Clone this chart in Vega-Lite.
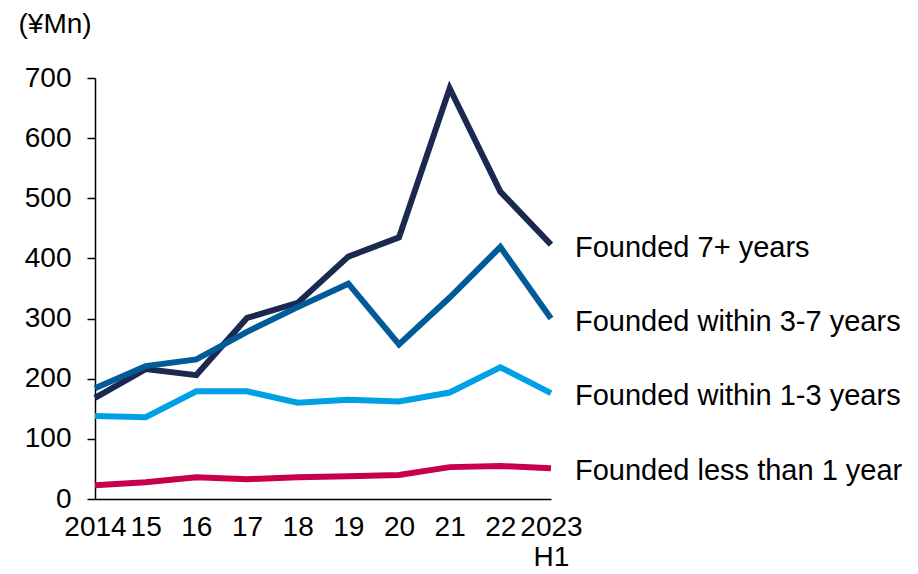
{
  "$schema": "https://vega.github.io/schema/vega-lite/v6.json",
  "width": 456,
  "height": 421,
  "autosize": "none",
  "padding": {"left": 95, "top": 78, "right": 367, "bottom": 75},
  "background": "white",
  "config": {
    "view": {"stroke": null},
    "font": "Liberation Sans",
    "axis": {"labelFont": "Liberation Sans", "titleFont": "Liberation Sans"}
  },
  "data": {
    "values": [
      {"year": "2014", "series": "Founded 7+ years", "value": 168},
      {"year": "15", "series": "Founded 7+ years", "value": 216},
      {"year": "16", "series": "Founded 7+ years", "value": 206},
      {"year": "17", "series": "Founded 7+ years", "value": 301},
      {"year": "18", "series": "Founded 7+ years", "value": 326},
      {"year": "19", "series": "Founded 7+ years", "value": 403},
      {"year": "20", "series": "Founded 7+ years", "value": 435},
      {"year": "21", "series": "Founded 7+ years", "value": 683},
      {"year": "22", "series": "Founded 7+ years", "value": 511},
      {"year": "2023 H1", "series": "Founded 7+ years", "value": 423},
      {"year": "2014", "series": "Founded within 3-7 years", "value": 184},
      {"year": "15", "series": "Founded within 3-7 years", "value": 221},
      {"year": "16", "series": "Founded within 3-7 years", "value": 232},
      {"year": "17", "series": "Founded within 3-7 years", "value": 278},
      {"year": "18", "series": "Founded within 3-7 years", "value": 319},
      {"year": "19", "series": "Founded within 3-7 years", "value": 358},
      {"year": "20", "series": "Founded within 3-7 years", "value": 257},
      {"year": "21", "series": "Founded within 3-7 years", "value": 335},
      {"year": "22", "series": "Founded within 3-7 years", "value": 419},
      {"year": "2023 H1", "series": "Founded within 3-7 years", "value": 300},
      {"year": "2014", "series": "Founded within 1-3 years", "value": 138},
      {"year": "15", "series": "Founded within 1-3 years", "value": 136},
      {"year": "16", "series": "Founded within 1-3 years", "value": 179},
      {"year": "17", "series": "Founded within 1-3 years", "value": 179},
      {"year": "18", "series": "Founded within 1-3 years", "value": 160},
      {"year": "19", "series": "Founded within 1-3 years", "value": 165},
      {"year": "20", "series": "Founded within 1-3 years", "value": 162},
      {"year": "21", "series": "Founded within 1-3 years", "value": 177},
      {"year": "22", "series": "Founded within 1-3 years", "value": 219},
      {"year": "2023 H1", "series": "Founded within 1-3 years", "value": 176},
      {"year": "2014", "series": "Founded less than 1 year", "value": 23},
      {"year": "15", "series": "Founded less than 1 year", "value": 28},
      {"year": "16", "series": "Founded less than 1 year", "value": 36},
      {"year": "17", "series": "Founded less than 1 year", "value": 33},
      {"year": "18", "series": "Founded less than 1 year", "value": 36},
      {"year": "19", "series": "Founded less than 1 year", "value": 38},
      {"year": "20", "series": "Founded less than 1 year", "value": 40},
      {"year": "21", "series": "Founded less than 1 year", "value": 53},
      {"year": "22", "series": "Founded less than 1 year", "value": 55},
      {"year": "2023 H1", "series": "Founded less than 1 year", "value": 51}
    ]
  },
  "encoding": {
    "x": {
      "field": "year",
      "type": "ordinal",
      "sort": null,
      "scale": {"type": "point", "padding": 0},
      "axis": {
        "title": null,
        "labelAngle": 0,
        "labelFontSize": 28,
        "labelColor": "black",
        "labelPadding": 14,
        "labelOverlap": false,
        "labelFlush": false,
        "labelExpr": "datum.value == '2023 H1' ? ['2023', 'H1'] : datum.value",
        "ticks": false,
        "domainColor": "black",
        "domainWidth": 1.5,
        "grid": false
      }
    },
    "y": {
      "field": "value",
      "type": "quantitative",
      "scale": {"domain": [0, 700], "nice": false},
      "axis": {
        "values": [0, 100, 200, 300, 400, 500, 600, 700],
        "title": "(¥Mn)",
        "titleAngle": 0,
        "titleAlign": "left",
        "titleBaseline": "alphabetic",
        "titleX": -77,
        "titleY": -46,
        "titleFontSize": 28,
        "titleFontWeight": "normal",
        "titleColor": "black",
        "labelFontSize": 28,
        "labelColor": "black",
        "labelPadding": 16,
        "tickSize": 8,
        "tickColor": "black",
        "tickWidth": 1.5,
        "domainColor": "black",
        "domainWidth": 1.5,
        "grid": false
      }
    },
    "color": {
      "field": "series",
      "type": "nominal",
      "scale": {
        "domain": ["Founded 7+ years", "Founded within 3-7 years", "Founded within 1-3 years", "Founded less than 1 year"],
        "range": ["#1b2951", "#005b98", "#00a0e6", "#c8004b"]
      },
      "legend": null
    }
  },
  "layer": [
    {
      "mark": {"type": "line", "strokeWidth": 6, "strokeJoin": "miter"}
    },
    {
      "transform": [{"filter": "datum.year == '2023 H1'"}],
      "mark": {"type": "text", "align": "left", "baseline": "middle", "dx": 24, "dy": 3, "fontSize": 29, "color": "black"},
      "encoding": {
        "text": {"field": "series"},
        "color": {"value": "black"}
      }
    }
  ]
}
